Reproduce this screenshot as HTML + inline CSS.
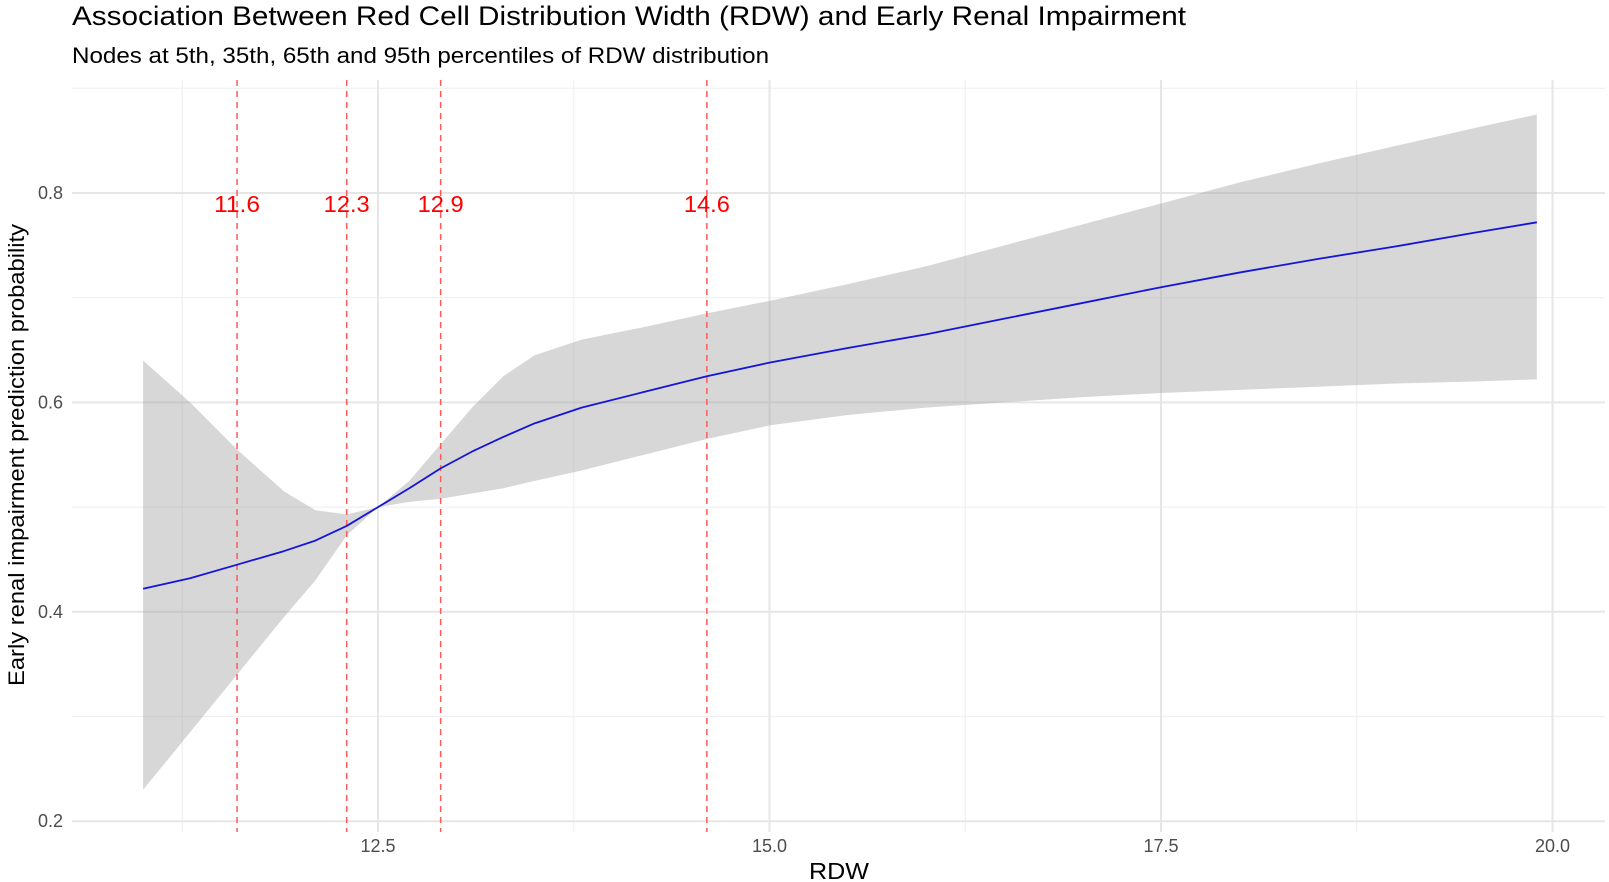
<!DOCTYPE html>
<html><head><meta charset="utf-8"><style>
html,body{margin:0;padding:0;background:#fff;}
svg{display:block;font-family:"Liberation Sans",Arial,sans-serif;}
</style></head><body>
<svg id="chart" width="1609" height="882" viewBox="0 0 1609 882" xmlns="http://www.w3.org/2000/svg">
<text x="72" y="25" font-size="27" textLength="1114" lengthAdjust="spacingAndGlyphs" fill="#000">Association Between Red Cell Distribution Width (RDW) and Early Renal Impairment</text>
<text x="72" y="63" font-size="22" textLength="697" lengthAdjust="spacingAndGlyphs" fill="#000">Nodes at 5th, 35th, 65th and 95th percentiles of RDW distribution</text>
<g id="grid"></g>
<g id="band"></g>
<g id="vlines"></g>
<g id="line"></g>
<g id="axes"></g>
<text x="839" y="879" font-size="23" textLength="60" lengthAdjust="spacingAndGlyphs" text-anchor="middle" fill="#000">RDW</text>
<text transform="translate(24,455) rotate(-90)" font-size="22" textLength="462" lengthAdjust="spacingAndGlyphs" text-anchor="middle" fill="#000">Early renal impairment prediction probability</text>
</svg>
<script>
const rdw   = [11.0,11.3,11.6,11.9,12.1,12.3,12.5,12.7,12.9,13.1,13.3,13.5,13.8,14.2,14.6,15.0,15.5,16.0,16.5,17.0,17.5,18.0,18.5,19.0,19.5,19.9];
const fit   = [0.422,0.432,0.445,0.458,0.468,0.482,0.500,0.518,0.537,0.553,0.567,0.580,0.595,0.610,0.625,0.638,0.652,0.665,0.680,0.695,0.710,0.724,0.737,0.749,0.762,0.772];
const upper = [0.640,0.600,0.555,0.515,0.497,0.493,0.500,0.525,0.560,0.595,0.625,0.645,0.660,0.672,0.685,0.697,0.713,0.730,0.750,0.770,0.790,0.810,0.828,0.845,0.862,0.875];
const lower = [0.230,0.285,0.340,0.395,0.430,0.473,0.500,0.505,0.508,0.513,0.518,0.525,0.535,0.550,0.565,0.578,0.588,0.595,0.600,0.605,0.609,0.612,0.615,0.618,0.620,0.622];
const nodes = [11.6,12.3,12.9,14.6];
const nodeLabels = ["11.6","12.3","12.9","14.6"];
const xTicks = [12.5,15.0,17.5,20.0];
const xTickLabels = ["12.5","15.0","17.5","20.0"];
const xMinor = [11.25,13.75,16.25,18.75];
const yTicks = [0.2,0.4,0.6,0.8];
const yTickLabels = ["0.2","0.4","0.6","0.8"];
const yMinor = [0.3,0.5,0.7,0.9];

const NS="http://www.w3.org/2000/svg";
const X=v=>378+(v-12.5)*156.6;
const Y=v=>193+(0.8-v)*1047;
const L=72,R=1605,T=80,B=832;
function mk(tag,attrs,parent){const e=document.createElementNS(NS,tag);for(const k in attrs)e.setAttribute(k,attrs[k]);parent.appendChild(e);return e;}
const grid=document.getElementById('grid');
yMinor.forEach(v=>{const e=mk('line',{x1:L,x2:R,y1:Y(v),y2:Y(v),stroke:'#f0f0f0','stroke-width':1.2},grid);

});
xMinor.forEach(v=>{const e=mk('line',{x1:X(v),x2:X(v),y1:T,y2:B,stroke:'#f0f0f0','stroke-width':1.2},grid);

});
yTicks.forEach(v=>{const e=mk('line',{x1:L,x2:R,y1:Y(v),y2:Y(v),stroke:'#e6e6e6','stroke-width':2},grid);

});
xTicks.forEach(v=>{const e=mk('line',{x1:X(v),x2:X(v),y1:T,y2:B,stroke:'#e6e6e6','stroke-width':2},grid);

});

let d='M'+rdw.map((x,i)=>X(x)+','+Y(upper[i])).join(' L');
for(let i=rdw.length-1;i>=0;i--)d+=' L'+X(rdw[i])+','+Y(lower[i]);
const band=mk('path',{d:d+' Z',fill:'#a6a6a6','fill-opacity':0.45},document.getElementById('band'));



const vl=document.getElementById('vlines');
nodes.forEach((v,i)=>{
 const l=mk('line',{x1:X(v),x2:X(v),y1:T,y2:B,stroke:'#ff5a5a','stroke-width':1.5,'stroke-dasharray':'6,5'},vl);
 
 
 const t=mk('text',{x:X(v),y:212,'font-size':23,textLength:46,lengthAdjust:'spacingAndGlyphs','text-anchor':'middle',fill:'#ff0000'},vl);
 t.textContent=nodeLabels[i];
 
 
});

const ln=mk('polyline',{points:rdw.map((x,i)=>X(x)+','+Y(fit[i])).join(' '),fill:'none',stroke:'#1515d6','stroke-width':1.8,'stroke-linejoin':'round'},document.getElementById('line'));



const ax=document.getElementById('axes');
yTicks.forEach((v,i)=>{const t=mk('text',{x:63,y:Y(v)+6,'font-size':18,'text-anchor':'end',fill:'#4d4d4d'},ax);t.textContent=yTickLabels[i];

});
xTicks.forEach((v,i)=>{const t=mk('text',{x:X(v),y:852,'font-size':18,'text-anchor':'middle',fill:'#4d4d4d'},ax);t.textContent=xTickLabels[i];

});
</script>
</body></html>
